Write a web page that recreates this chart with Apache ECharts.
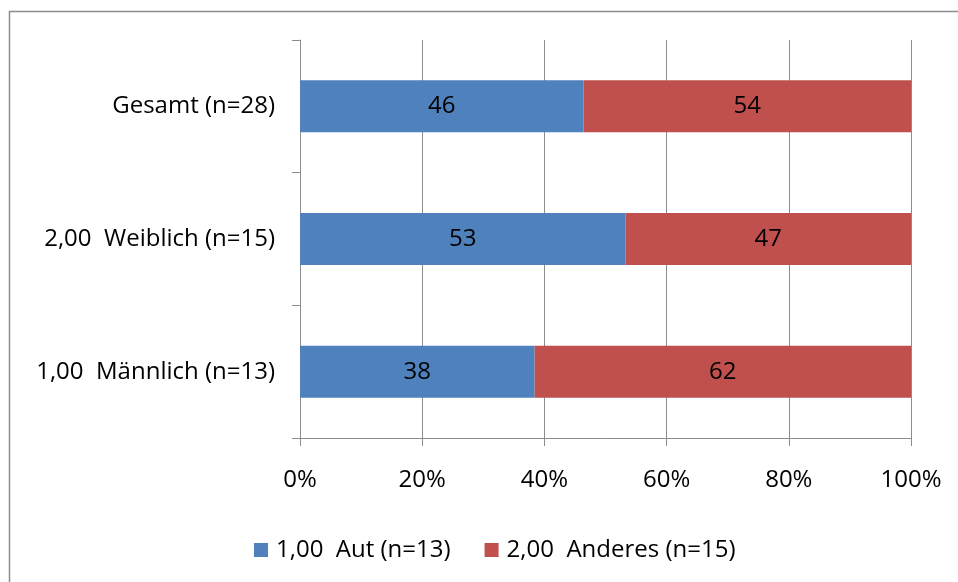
<!DOCTYPE html>
<html>
<head>
<meta charset="utf-8">
<script src="https://cdn.jsdelivr.net/npm/echarts@6/dist/echarts.min.js"></script>
<style>
  html, body { margin: 0; padding: 0; background: #fff; }
  #main { width: 958px; height: 582px; }
</style>
</head>
<body>
<div id="main"></div>
<script>
// categories bottom-to-top, as the value axis stacks them
var categories = ['1,00  Männlich (n=13)', '2,00  Weiblich (n=15)', 'Gesamt (n=28)'];
var autValues = [38.4, 53.3, 46.4];
var anderesValues = [61.6, 46.7, 53.6];
var xTicks = [0, 20, 40, 60, 80, 100];
var seriesNames = ['1,00  Aut (n=13)', '2,00  Anderes (n=15)'];

var chart = echarts.init(document.getElementById('main'));
var font = 'Open Sans';
var fs = 24;

var barLabel = {
  show: true,
  position: 'inside',
  color: '#000',
  fontSize: fs,
  fontFamily: font,
  formatter: function (p) { return Math.round(p.value); }
};

var option = {
  animation: false,
  backgroundColor: '#fff',
  textStyle: { fontFamily: font },
  graphic: [{
    type: 'rect',
    shape: { x: 9.5, y: 11.5, width: 1200, height: 1200 },
    style: { fill: 'none', stroke: '#8c8c8c', lineWidth: 1.5 },
    silent: true
  }],
  grid: { left: 300, right: 47, top: 40, bottom: 144 },
  legend: {
    left: 249,
    top: 533,
    itemWidth: 14,
    itemHeight: 14,
    itemGap: 34,
    icon: 'rect',
    textStyle: { fontSize: fs, color: '#000', fontFamily: font, padding: [0, 0, 0, 3] },
    data: seriesNames
  },
  xAxis: {
    type: 'value',
    min: 0,
    max: 100,
    interval: 20,
    axisLine: { show: true, lineStyle: { color: '#8c8c8c', width: 1 } },
    axisTick: { show: true, length: 8, lineStyle: { color: '#8c8c8c' } },
    axisLabel: {
      margin: 30,
      fontSize: fs,
      color: '#000',
      fontFamily: font,
      formatter: function (v) { return xTicks.indexOf(v) >= 0 ? v + '%' : ''; }
    },
    splitLine: { show: true, lineStyle: { color: '#8c8c8c', width: 1 } }
  },
  yAxis: {
    type: 'category',
    data: categories,
    axisLine: { show: true, lineStyle: { color: '#8c8c8c', width: 1 } },
    axisTick: { show: true, length: 8, lineStyle: { color: '#8c8c8c' } },
    axisLabel: { margin: 25, fontSize: fs, color: '#000', fontFamily: font }
  },
  series: [
    {
      name: seriesNames[0],
      type: 'bar',
      stack: 'total',
      barWidth: 52,
      data: autValues,
      itemStyle: { color: '#4f81bd' },
      label: barLabel
    },
    {
      name: seriesNames[1],
      type: 'bar',
      stack: 'total',
      barWidth: 52,
      data: anderesValues,
      itemStyle: { color: '#c0504d' },
      label: barLabel
    }
  ]
};

chart.setOption(option);
</script>
</body>
</html>
